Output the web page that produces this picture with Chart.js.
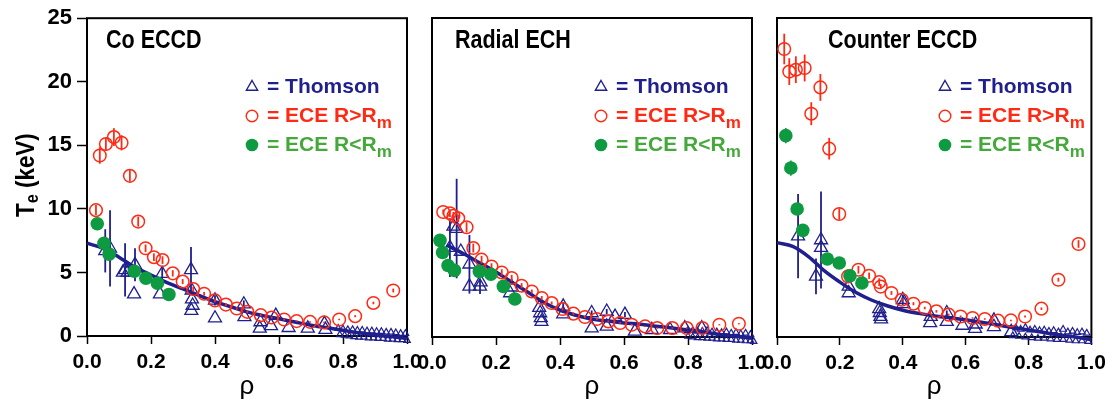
<!DOCTYPE html>
<html><head><meta charset="utf-8">
<script src="https://cdn.jsdelivr.net/npm/chart.js@4.4.1/dist/chart.umd.min.js"></script>
<style>
html,body{margin:0;padding:0;background:#fff;}
#wrap{position:relative;width:1112px;height:402px;overflow:hidden;background:#fff;}
#wrap canvas{position:absolute;left:0;top:0;}
</style></head><body>
<div id="wrap">
<canvas id="c1" width="1112" height="402"></canvas>
<canvas id="c2" width="1112" height="402"></canvas>
<canvas id="c3" width="1112" height="402"></canvas>
</div>
<script>
// ---------------- DATA ----------------
const xTicks = [0.0, 0.2, 0.4, 0.6, 0.8, 1.0];
const yTicks = [0, 5, 10, 15, 20, 25];
const panelTitles = ['Co ECCD', 'Radial ECH', 'Counter ECCD'];
const legendLabels = ['= Thomson', '= ECE R>R', '= ECE R<R'];
const legendSubs = ['', 'm', 'm'];
const yAxisTitle = 'T';
const yAxisSub = 'e';
const yAxisUnit = ' (keV)';
const xAxisTitle = 'ρ';

// Co ECCD
const coEceOutRho = [0.028,0.040,0.059,0.084,0.108,0.134,0.160,0.183,0.209,0.236,0.268,0.299,0.332,0.366,0.400,0.434,0.468,0.501,0.543,0.577,0.616,0.655,0.697,0.741,0.788,0.838,0.895,0.957];
const coEceOutTe  = [9.9,14.2,15.1,15.65,15.2,12.6,9.0,6.9,6.2,5.97,4.93,4.28,3.69,3.32,2.8,2.47,2.16,1.9,1.64,1.45,1.3,1.17,1.11,1.07,1.3,1.56,2.6,3.58];
const coEceOutErr = [0.4,0.65,0.5,0.7,0.6,0.45,0.4,0.3,0.3,0.3,0.25,0.2,0.2,0.15,0.15,0.12,0.1,0.1,0.1,0.08,0.08,0.06,0.06,0.06,0.06,0.08,0.1,0.15];
const coEceInRho = [0.032,0.053,0.069,0.148,0.184,0.220,0.256];
const coEceInTe  = [8.83,7.3,6.44,5.09,4.54,4.15,3.27];
const coEceInErr = [0,0,0,0,0,0,0];
const coThomRho = [0.057,0.072,0.112,0.119,0.127,0.147,0.150,0.228,0.235,0.325,0.327,0.328,0.330,0.326,0.400,0.400,0.490,0.492,0.540,0.542,0.575,0.590,0.630,0.690,0.745,0.742];
const coThomTe  = [6.7,6.9,5.0,5.2,5.0,3.3,5.6,3.3,4.9,5.2,3.6,2.9,2.4,2.0,2.8,1.4,2.5,1.5,0.6,1.1,0.8,1.6,0.65,0.6,0.5,0.95];
const coThomErr = [1.7,3.0,0,2.1,0,0,1.3,0,0.5,1.8,0,0,0,0,0.4,0,0.3,0,0,0,0,0,0,0,0,0];
const coEdgeRho = [0.785,0.80,0.815,0.83,0.845,0.86,0.875,0.89,0.905,0.92,0.935,0.95,0.965,0.98,0.995,0.79,0.805,0.82,0.835,0.85,0.865,0.88,0.895,0.91,0.925,0.94,0.955,0.97,0.985,1.0];
const coEdgeTe  = [0.6,0.55,0.5,0.5,0.45,0.45,0.4,0.4,0.35,0.35,0.3,0.3,0.25,0.2,0.2,0.1,0.05,0.0,-0.05,-0.1,-0.1,-0.15,-0.15,-0.2,-0.2,-0.25,-0.25,-0.3,-0.3,-0.35];
const coFitRho = [0,0.05,0.1,0.15,0.2,0.25,0.3,0.35,0.4,0.45,0.5,0.55,0.6,0.65,0.7,0.75,0.8,0.85,0.9,0.95,1.0];
const coFitTe  = [7.3,6.9,6.2,5.4,4.8,4.2,3.7,3.2,2.7,2.3,1.9,1.6,1.35,1.1,0.85,0.65,0.45,0.25,0.08,-0.05,-0.2];

// Radial ECH
const radEceOutRho = [0.035,0.056,0.067,0.082,0.108,0.129,0.155,0.186,0.218,0.249,0.280,0.312,0.343,0.374,0.408,0.442,0.478,0.515,0.551,0.588,0.624,0.666,0.704,0.751,0.796,0.845,0.898,0.959];
const radEceOutTe  = [9.8,9.7,9.5,9.3,8.6,6.97,6.06,5.53,5.06,4.62,4.02,3.57,3.06,2.66,2.19,1.83,1.57,1.41,1.22,1.10,0.96,0.83,0.70,0.70,0.70,0.70,0.96,1.04];
const radEceOutErr = [0.2,0.3,0.3,0.3,0.4,0.35,0.3,0.25,0.25,0.25,0.2,0.15,0.15,0.12,0.12,0.1,0.08,0.08,0.08,0.06,0.06,0.05,0.05,0.05,0.05,0.05,0.05,0.05];
const radEceInRho = [0.025,0.033,0.050,0.070,0.148,0.184,0.223,0.259];
const radEceInTe  = [7.57,6.62,5.6,5.22,5.14,4.92,3.97,2.98];
const radEceInErr = [0,0,0,0,0,0,0,0];
const radThomRho = [0.056,0.067,0.077,0.090,0.117,0.117,0.150,0.152,0.244,0.250,0.335,0.338,0.340,0.342,0.410,0.410,0.499,0.499,0.546,0.546,0.572,0.603,0.634,0.687,0.744,0.790,0.843];
const radThomTe  = [7.0,8.67,8.5,6.7,5.7,3.97,3.97,4.3,3.45,3.9,2.3,1.88,1.5,1.2,2.4,1.8,1.88,0.7,2.0,0.83,1.6,1.75,0.44,0.57,0.57,0.7,0.7];
const radThomErr = [2.3,0,3.9,0,2.3,0,0.6,0,0,0,0,0,0,0,0.3,0,0.2,0,0.2,0,0,0.2,0,0,0,0,0];
const radEdgeRho = [0.80,0.815,0.83,0.845,0.86,0.875,0.89,0.905,0.92,0.935,0.95,0.965,0.98,0.995,0.80,0.815,0.83,0.845,0.86,0.875,0.89,0.905,0.92,0.935,0.95,0.965,0.98,0.995,1.005];
const radEdgeTe  = [0.5,0.5,0.45,0.45,0.5,0.4,0.4,0.35,0.4,0.3,0.35,0.25,0.3,0.2,0.05,0.0,-0.05,-0.05,-0.1,-0.1,-0.15,-0.15,-0.2,-0.2,-0.25,-0.25,-0.3,-0.3,-0.35];
const radFitRho = [0.046,0.1,0.15,0.2,0.25,0.3,0.35,0.4,0.45,0.5,0.55,0.6,0.65,0.7,0.75,0.8,0.85,0.9,0.95,1.0];
const radFitTe  = [7.2,6.5,5.8,5.1,4.3,3.5,2.7,2.1,1.7,1.4,1.25,1.1,1.0,0.85,0.7,0.55,0.4,0.2,0.05,-0.1];

// Counter ECCD
const ctrEceOutRho = [0.023,0.039,0.060,0.088,0.109,0.138,0.166,0.198,0.226,0.259,0.293,0.325,0.330,0.364,0.397,0.434,0.470,0.507,0.546,0.584,0.622,0.661,0.703,0.744,0.789,0.841,0.895,0.959];
const ctrEceOutTe  = [22.57,20.8,20.95,21.08,17.5,19.56,14.76,9.64,4.75,5.27,4.8,4.3,3.95,3.45,2.92,2.61,2.27,2.01,1.75,1.61,1.49,1.41,1.28,1.30,1.61,2.22,4.49,7.29];
const ctrEceOutErr = [1.2,1.05,1.05,1.05,0.9,1.05,0.85,0.45,0.3,0.3,0.25,0.3,0.2,0.15,0.15,0.12,0.1,0.1,0.08,0.08,0.06,0.06,0.06,0.06,0.08,0.1,0.15,0.3];
const ctrEceInRho = [0.028,0.044,0.064,0.082,0.160,0.198,0.232,0.270];
const ctrEceInTe  = [15.78,13.24,10.03,8.36,6.11,5.8,4.8,4.23];
const ctrEceInErr = [0.6,0.6,0,0,0,0,0,0];
const ctrThomRho = [0.067,0.140,0.140,0.124,0.228,0.228,0.325,0.327,0.329,0.331,0.400,0.402,0.487,0.489,0.540,0.540,0.590,0.630,0.632,0.690,0.690,0.745];
const ctrThomTe  = [7.9,7.6,7.0,4.75,3.45,3.97,2.2,1.9,1.6,1.4,2.92,2.6,1.1,1.6,1.88,1.2,0.9,0.65,1.0,0.8,1.3,0.4];
const ctrThomErr = [3.3,3.8,0,1.4,0,0,0,0,0,0,0.4,0,0,0,0.2,0,0,0,0,0,0,0];
const ctrEdgeRho = [0.76,0.775,0.79,0.805,0.82,0.835,0.85,0.865,0.88,0.895,0.91,0.925,0.94,0.955,0.97,0.985,0.75,0.77,0.79,0.81,0.83,0.85,0.87,0.89,0.91,0.93,0.95,0.97,0.99];
const ctrEdgeTe  = [0.7,0.6,0.75,0.55,0.6,0.5,0.55,0.45,0.5,0.4,0.6,0.4,0.45,0.35,0.4,0.3,0.1,0.05,0.0,-0.05,-0.1,-0.1,-0.15,-0.2,-0.2,-0.25,-0.3,-0.3,-0.35];
const ctrFitRho = [0,0.05,0.1,0.15,0.2,0.25,0.3,0.35,0.4,0.45,0.5,0.55,0.6,0.65,0.7,0.75,0.8,0.85,0.9,0.95,1.0];
const ctrFitTe  = [7.4,7.1,6.3,5.2,4.3,3.5,2.9,2.45,2.1,1.85,1.65,1.5,1.35,1.15,0.95,0.75,0.55,0.35,0.15,0.0,-0.2];

// ---------------- STYLE ----------------
const NAVY = '#1f1f8e';
const RED = '#ff2a14';
const GREEN = '#0d9a40';
const GREEN_TXT = '#45a83a';
const FONT = '"Liberation Sans", Arial, Helvetica, sans-serif';
const W = 1112, H = 402;

function pts(r, t) { return r.map((x, i) => ({ x: x, y: t[i] })); }

const framePlugin = {
  id: 'frame',
  beforeDatasetsDraw(chart) {
    const a = chart.chartArea, ctx = chart.ctx;
    ctx.save();
    ctx.strokeStyle = '#000';
    ctx.lineWidth = 2;
    ctx.strokeRect(a.left, a.top, a.right - a.left, a.bottom - a.top);
    ctx.restore();
  }
};

const errorBarPlugin = {
  id: 'errbars',
  afterDatasetDraw(chart, args) {
    const ds = chart.data.datasets[args.index];
    if (!ds.errors) return;
    const ctx = chart.ctx, ys = chart.scales.y;
    ctx.save();
    ctx.strokeStyle = ds.errColor || ds.borderColor;
    ctx.lineWidth = ds.errWidth || 1.6;
    args.meta.data.forEach((el, i) => {
      const e = ds.errors[i];
      if (!e) return;
      const v = ds.data[i].y;
      ctx.beginPath();
      ctx.moveTo(el.x, ys.getPixelForValue(v - e));
      ctx.lineTo(el.x, ys.getPixelForValue(v + e));
      ctx.stroke();
    });
    ctx.restore();
  }
};

function textWithSub(ctx, x, y, main, sub, font, subFont, dy) {
  ctx.font = font;
  ctx.fillText(main, x, y);
  const w = ctx.measureText(main).width;
  if (sub) {
    ctx.font = subFont;
    ctx.fillText(sub, x + w, y + dy);
  }
}

const textPlugin = {
  id: 'panelText',
  afterDraw(chart, args, o) {
    const ctx = chart.ctx, a = chart.chartArea;
    ctx.save();
    ctx.textBaseline = 'alphabetic';
    ctx.textAlign = 'left';
    // panel title (condensed)
    ctx.save();
    ctx.fillStyle = '#000';
    ctx.font = 'bold 25px ' + FONT;
    ctx.translate(a.left + o.titleDx, 48);
    ctx.scale(0.86, 1);
    ctx.fillText(o.title, 0, 0);
    ctx.restore();
    // legend
    const sx = a.left + o.legDx;
    const rows = [87, 116, 145];
    const cols = [NAVY, RED, GREEN_TXT];
    ctx.lineWidth = 1.4;
    ctx.strokeStyle = NAVY;
    ctx.beginPath();
    const r = 6.5;
    ctx.moveTo(sx, rows[0] - r);
    ctx.lineTo(sx + r * 0.866, rows[0] + r * 0.5);
    ctx.lineTo(sx - r * 0.866, rows[0] + r * 0.5);
    ctx.closePath();
    ctx.stroke();
    ctx.strokeStyle = RED;
    ctx.beginPath();
    ctx.arc(sx, rows[1], 5.8, 0, Math.PI * 2);
    ctx.stroke();
    ctx.fillStyle = GREEN;
    ctx.beginPath();
    ctx.arc(sx, rows[2], 6.3, 0, Math.PI * 2);
    ctx.fill();
    for (let i = 0; i < 3; i++) {
      ctx.fillStyle = cols[i];
      textWithSub(ctx, sx + 15, rows[i] + 6, legendLabels[i], legendSubs[i],
        'bold 21px ' + FONT, 'bold 17px ' + FONT, 6);
    }
    // y axis title
    if (o.yTitle) {
      ctx.save();
      ctx.fillStyle = '#000';
      ctx.translate(34, (a.top + a.bottom) / 2 - 2);
      ctx.rotate(-Math.PI / 2);
      ctx.scale(0.86, 1);
      const f1 = 'bold 26px ' + FONT, f2 = 'bold 19px ' + FONT;
      ctx.font = f1; const w1 = ctx.measureText(yAxisTitle).width;
      ctx.font = f2; const w2 = ctx.measureText(yAxisSub).width;
      ctx.font = f1; const w3 = ctx.measureText(yAxisUnit).width;
      let x = -(w1 + w2 + w3) / 2;
      ctx.font = f1; ctx.fillText(yAxisTitle, x, 0); x += w1;
      ctx.font = f2; ctx.fillText(yAxisSub, x, 4); x += w2;
      ctx.font = f1; ctx.fillText(yAxisUnit, x, 0);
      ctx.restore();
    }
    ctx.restore();
  }
};

function makePanel(id, box, d, txt) {
  const yW = box.showY ? 60 : 0;
  return new Chart(document.getElementById(id), {
    type: 'scatter',
    data: {
      datasets: [
        { label: 'ECE R<Rm', data: pts(d.inR, d.inT), errors: d.inE, errColor: GREEN,
          pointStyle: 'circle', pointRadius: 6.8, backgroundColor: GREEN, borderColor: GREEN, borderWidth: 0, clip: false },
        { label: 'ECE R>Rm', data: pts(d.outR, d.outT), errors: d.outE, errColor: RED, errWidth: 1.8,
          pointStyle: 'circle', pointRadius: 6.3, backgroundColor: 'rgba(0,0,0,0)', borderColor: RED, borderWidth: 1.5, clip: false },
        { label: 'fit', data: pts(d.fitR, d.fitT), showLine: true, pointRadius: 0, borderColor: NAVY,
          borderWidth: 3.5, tension: 0.35, fill: false, clip: false },
        { label: 'Thomson', data: pts(d.thR, d.thT), errors: d.thE, errColor: NAVY, errWidth: 1.8,
          pointStyle: 'triangle', pointRadius: 7.5, backgroundColor: 'rgba(0,0,0,0)', borderColor: NAVY, borderWidth: 1.3, clip: false },
        { label: 'Thomson edge', data: pts(d.edR, d.edT),
          pointStyle: 'triangle', pointRadius: 3.8, backgroundColor: 'rgba(0,0,0,0)', borderColor: NAVY, borderWidth: 1.2, clip: false }
      ]
    },
    options: {
      responsive: false, animation: false, events: [],
      layout: { autoPadding: false, padding: { left: box.left - yW, right: W - box.right, top: box.top, bottom: 0 } },
      plugins: { legend: { display: false }, tooltip: { enabled: false }, panelText: txt },
      scales: {
        x: {
          type: 'linear', position: 'bottom', min: 0, max: 1,
          afterFit(s) { s.height = H - box.bottom; },
          afterBuildTicks(s) { s.ticks = xTicks.map(v => ({ value: v })); },
          ticks: { autoSkip: false, maxRotation: 0, minRotation: 0, padding: 6, color: '#000',
            font: { family: FONT, size: 21, weight: 'bold' }, callback: v => Number(v).toFixed(1) },
          grid: { display: true, drawOnChartArea: false, drawTicks: true, tickLength: 8, tickColor: '#000', tickWidth: 1.5 },
          border: { display: false },
          title: { display: true, text: xAxisTitle, color: '#000', font: { family: FONT, size: 26 }, padding: { top: 0, bottom: 0 } }
        },
        y: {
          type: 'linear', position: 'left', min: 0, max: 25,
          afterFit(s) { s.width = yW; },
          afterBuildTicks(s) { s.ticks = yTicks.map(v => ({ value: v })); },
          ticks: { display: box.showY, padding: 5, color: '#000', font: { family: FONT, size: 22, weight: 'bold' } },
          grid: { display: box.showY, drawOnChartArea: false, drawTicks: true, tickLength: 10, tickColor: '#000', tickWidth: 1.5 },
          border: { display: false }
        }
      }
    },
    plugins: [framePlugin, errorBarPlugin, textPlugin]
  });
}

makePanel('c1', { left: 87, right: 407, top: 16, bottom: 336, showY: true },
  { outR: coEceOutRho, outT: coEceOutTe, outE: coEceOutErr, inR: coEceInRho, inT: coEceInTe, inE: coEceInErr,
    thR: coThomRho, thT: coThomTe, thE: coThomErr, edR: coEdgeRho, edT: coEdgeTe, fitR: coFitRho, fitT: coFitTe },
  { title: panelTitles[0], titleDx: 19, legDx: 165, yTitle: true });
makePanel('c2', { left: 432, right: 752, top: 18, bottom: 337, showY: false },
  { outR: radEceOutRho, outT: radEceOutTe, outE: radEceOutErr, inR: radEceInRho, inT: radEceInTe, inE: radEceInErr,
    thR: radThomRho, thT: radThomTe, thE: radThomErr, edR: radEdgeRho, edT: radEdgeTe, fitR: radFitRho, fitT: radFitTe },
  { title: panelTitles[1], titleDx: 23, legDx: 169, yTitle: false });
makePanel('c3', { left: 777, right: 1096, top: 18, bottom: 337, showY: false },
  { outR: ctrEceOutRho, outT: ctrEceOutTe, outE: ctrEceOutErr, inR: ctrEceInRho, inT: ctrEceInTe, inE: ctrEceInErr,
    thR: ctrThomRho, thT: ctrThomTe, thE: ctrThomErr, edR: ctrEdgeRho, edT: ctrEdgeTe, fitR: ctrFitRho, fitT: ctrFitTe },
  { title: panelTitles[2], titleDx: 51, legDx: 168, yTitle: false });
</script>
</body></html>
